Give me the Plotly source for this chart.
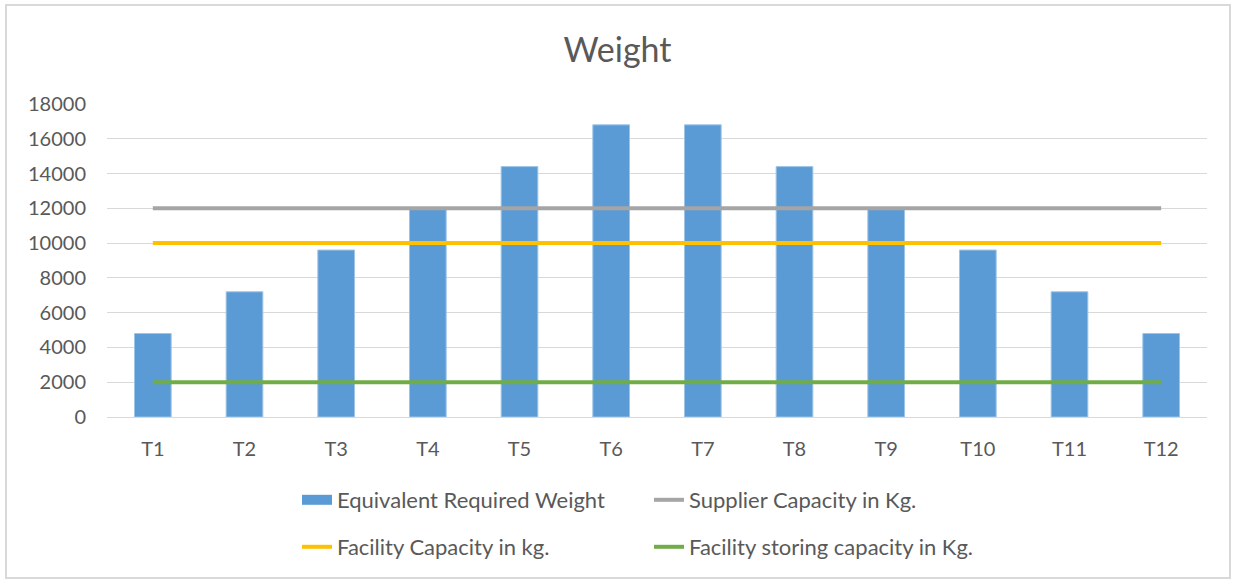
import plotly.graph_objects as go

# Period labels and series values
periods = ["T1", "T2", "T3", "T4", "T5", "T6", "T7", "T8", "T9", "T10", "T11", "T12"]
required_weight = [4800, 7200, 9600, 12000, 14400, 16800, 16800, 14400, 12000, 9600, 7200, 4800]
supplier_capacity = [12000] * 12
facility_capacity = [10000] * 12
storing_capacity = [2000] * 12

W, H = 1235, 583
ML, MR, MT, MB = 107, 28, 104, 166
PW, PH = W - ML - MR, H - MT - MB

TEXT = "#595959"
FONT = "Lato, Liberation Sans, sans-serif"

fig = go.Figure()

fig.add_trace(go.Bar(
    x=periods, y=required_weight, name="Equivalent Required Weight",
    marker=dict(color="#5b9bd5", line=dict(color="#9dc3e6", width=1)),
    showlegend=False,
))
# Wide-rectangle legend key for the bar series
fig.add_trace(go.Scatter(
    x=[None], y=[None], mode="lines", name="Equivalent Required Weight",
    line=dict(color="#5b9bd5", width=10), legend="legend",
))
fig.add_trace(go.Scatter(
    x=periods, y=supplier_capacity, mode="lines", name="Supplier Capacity in Kg.",
    line=dict(color="#a5a5a5", width=4), legend="legend",
))
fig.add_trace(go.Scatter(
    x=periods, y=facility_capacity, mode="lines", name="Facility Capacity in kg.",
    line=dict(color="#ffc000", width=4), legend="legend2",
))
fig.add_trace(go.Scatter(
    x=periods, y=storing_capacity, mode="lines", name="Facility storing capacity in Kg.",
    line=dict(color="#70ad47", width=4), legend="legend2",
))

def px_x(px):
    return (px - ML) / PW

def px_y(py):
    return (H - MB - py) / PH

legend_common = dict(
    orientation="h", xanchor="left", yanchor="middle",
    font=dict(family=FONT, size=22, color=TEXT),
    entrywidth=307, entrywidthmode="pixels",
    bgcolor="rgba(0,0,0,0)", itemwidth=30, tracegroupgap=0,
)

fig.update_layout(
    width=W, height=H,
    margin=dict(l=ML, r=MR, t=MT, b=MB),
    paper_bgcolor="white", plot_bgcolor="white",
    font=dict(family=FONT, color=TEXT),
    title=dict(text="Weight", x=0.5, xref="container", xanchor="center",
               y=1 - 50 / H, yref="container", yanchor="middle",
               font=dict(family=FONT, size=34, color=TEXT)),
    bargap=0.6,
    showlegend=True,
    legend=dict(x=px_x(297), y=px_y(500), **legend_common),
    legend2=dict(x=px_x(297), y=px_y(547), **legend_common),
    xaxis=dict(
        showgrid=False, showline=True, linecolor="#d9d9d9", linewidth=1,
        ticks="", tickfont=dict(family=FONT, size=20, color=TEXT),
        ticklabelstandoff=14,
    ),
    yaxis=dict(
        range=[0, 18000], dtick=2000, showgrid=True, gridcolor="#d9d9d9",
        gridwidth=1, zeroline=False, showline=False, ticks="",
        tickformat="d", tickfont=dict(family=FONT, size=20, color=TEXT),
        ticklabelstandoff=20,
    ),
    shapes=[dict(
        type="rect", xref="paper", yref="paper",
        x0=px_x(6), x1=px_x(1230), y0=px_y(578), y1=px_y(5),
        line=dict(color="#d9d9d9", width=2), fillcolor="rgba(0,0,0,0)",
        layer="below",
    )],
)

fig.write_html("out.html")
